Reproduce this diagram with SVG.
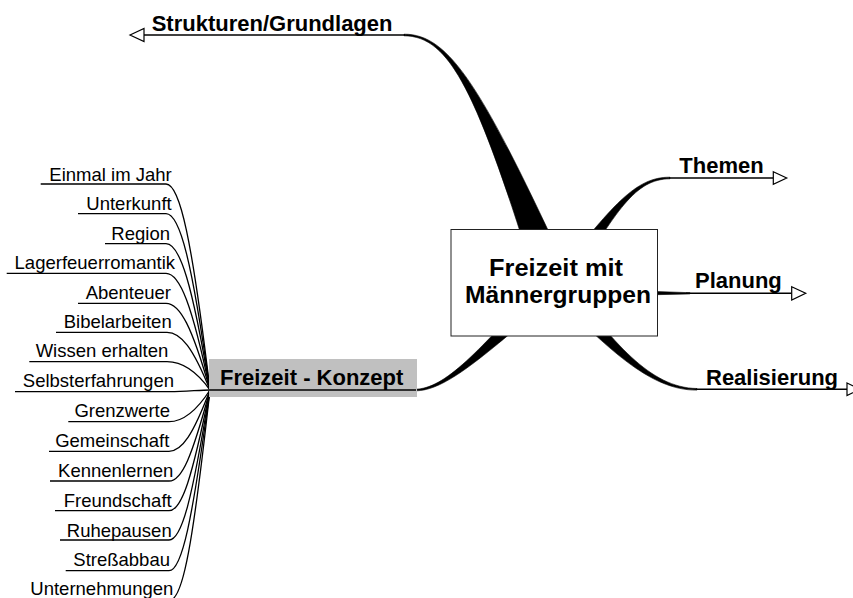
<svg xmlns="http://www.w3.org/2000/svg" width="853" height="598" viewBox="0 0 853 598">
<style>
  .lbl{font-family:"Liberation Sans",Arial,sans-serif;font-size:18.5px;fill:#000;text-anchor:end}
  .br{font-family:"Liberation Sans",Arial,sans-serif;font-size:22px;font-weight:bold;fill:#000}
  .ctr{font-family:"Liberation Sans",Arial,sans-serif;font-size:24px;font-weight:bold;fill:#000;text-anchor:middle}
  .thin{fill:none;stroke:#000;stroke-width:1.3}
  .ul{fill:none;stroke:#000;stroke-width:1.6}
  .wedge{fill:#000;stroke:#000;stroke-width:0.6}
  .arr{fill:#fff;stroke:#000;stroke-width:1.2;stroke-linejoin:miter}
</style>
<rect width="853" height="598" fill="#fff"/>
<g id="connectors">
  <!-- main branches (tapered) -->
  <path class="wedge" d="M404,34.2 C450,33.8 482.8,88.9 569.9,276.9 L538.1,289.1 C477.2,91.1 450,36.2 404,35.8 Z"/>
  <path class="wedge" d="M670,178.8 C635,179.2 616.8,209.8 569.2,288.4 L554.8,277.6 C612,206.2 635,176.8 670,177.2 Z"/>
  <path class="wedge" d="M600,289.5 L690,292.7 L690,293.9 L600,296 Z"/>
  <path class="wedge" d="M697,390.1 C650,390.8 607,347.6 548.5,289.6 L563.5,276.4 C613,342.4 650,387.8 697,388.5 Z"/>
  <path class="wedge" d="M415,389.2 C445,388.8 477.6,352.5 547,275.8 L561,290.2 C482.4,357.5 445,391.2 415,390.8 Z"/>
  <!-- branch underlines -->
  <path class="ul" d="M144,35 H405"/>
  <path class="ul" d="M669,178 H773.3"/>
  <path class="ul" d="M686,293.3 H791.7"/>
  <path class="ul" d="M696,389.3 H847"/>
  <path class="ul" d="M209,390 H416"/>
  <!-- arrowheads -->
  <polygon class="arr" points="130,35 144,28.5 144,41.5"/>
  <polygon class="arr" points="773.3,171.7 786.7,178 773.3,184.3"/>
  <polygon class="arr" points="791.7,286.7 805.7,293.3 791.7,300"/>
  <polygon class="arr" points="847,383 860,389.3 847,395.6"/>
  <!-- sub-branches of Freizeit - Konzept -->
  <path class="thin" d="M40.7,184 H166 C180,184 192,239.6 210,390"/>
  <path class="thin" d="M78,213.7 H166 C180,213.7 192,261.4 210,390"/>
  <path class="thin" d="M105,243.7 H166 C180,243.7 192,283.2 210,390"/>
  <path class="thin" d="M6.7,273.3 H166 C180,273.3 192,304.8 210,390"/>
  <path class="thin" d="M78,303.3 H166 C180,303.3 192,326.7 210,390"/>
  <path class="thin" d="M56,332.3 H167 C181,332.3 193,347.9 210,390"/>
  <path class="thin" d="M29.3,361.7 H167 C181,361.7 195,369.3 210,390"/>
  <path class="thin" d="M15,391.7 H170 C185,391.7 200,390 210,390"/>
  <path class="thin" d="M68.3,421.7 H169 C182,421.7 195,413.2 210,390"/>
  <path class="thin" d="M49,451.3 H169 C182,451.3 193,434.7 210,390"/>
  <path class="thin" d="M50,481 H169 C182,481 192,456.4 210,390"/>
  <path class="thin" d="M55,510.7 H169 C182,510.7 192,477.6 210,390"/>
  <path class="thin" d="M60,540 H169 C182,540 192,499.5 210,390"/>
  <path class="thin" d="M65.7,570.7 H169 C182,570.7 192,521.9 210,390"/>
  <path class="thin" d="M23,600 H170 C183,600 193,543.3 210,390"/>
</g>
<g id="center">
  <rect x="451" y="229.5" width="206.5" height="106.5" fill="#fff" stroke="#222" stroke-width="1"/>
  <text class="ctr" x="556" y="276" textLength="134" lengthAdjust="spacingAndGlyphs">Freizeit mit</text>
  <text class="ctr" x="558" y="303.3" textLength="186" lengthAdjust="spacingAndGlyphs">Männergruppen</text>
</g>
<g id="strukturen"><text class="br" x="151.7" y="31">Strukturen/Grundlagen</text></g>
<g id="themen"><text class="br" x="679.3" y="173.3">Themen</text></g>
<g id="planung"><text class="br" x="695" y="288.3">Planung</text></g>
<g id="realisierung"><text class="br" x="706" y="385">Realisierung</text></g>
<g id="konzept">
  <rect x="209" y="359" width="208" height="38" fill="#c0c0c0"/>
  <path class="ul" d="M209,390 H416"/>
  <text class="br" x="220" y="385">Freizeit - Konzept</text>
</g>
<g id="einmal"><text class="lbl" x="171.7" y="180.7">Einmal im Jahr</text></g>
<g id="unterkunft"><text class="lbl" x="171.7" y="210">Unterkunft</text></g>
<g id="region"><text class="lbl" x="170" y="240">Region</text></g>
<g id="lagerfeuer"><text class="lbl" x="175" y="269">Lagerfeuerromantik</text></g>
<g id="abenteuer"><text class="lbl" x="171" y="298.5">Abenteuer</text></g>
<g id="bibel"><text class="lbl" x="171.7" y="328.3">Bibelarbeiten</text></g>
<g id="wissen"><text class="lbl" x="168.3" y="357.3">Wissen erhalten</text></g>
<g id="selbst"><text class="lbl" x="174" y="387.3">Selbsterfahrungen</text></g>
<g id="grenz"><text class="lbl" x="170" y="417.3">Grenzwerte</text></g>
<g id="gemein"><text class="lbl" x="169.3" y="446.7">Gemeinschaft</text></g>
<g id="kennen"><text class="lbl" x="173.3" y="476.7">Kennenlernen</text></g>
<g id="freund"><text class="lbl" x="171.7" y="506.7">Freundschaft</text></g>
<g id="ruhe"><text class="lbl" x="171.7" y="536.7">Ruhepausen</text></g>
<g id="stress"><text class="lbl" x="170" y="566">Streßabbau</text></g>
<g id="unternehm"><text class="lbl" x="173.3" y="595">Unternehmungen</text></g>
</svg>
